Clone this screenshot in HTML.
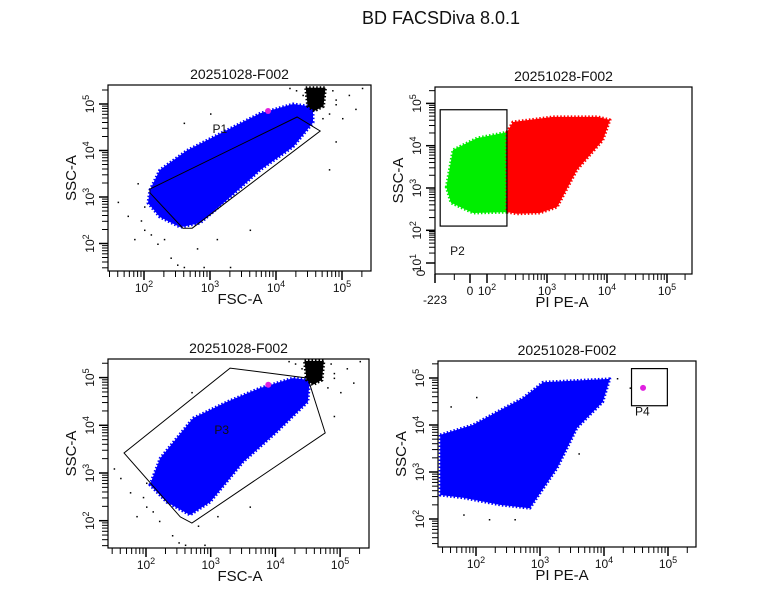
<!DOCTYPE html>
<html><head><meta charset="utf-8">
<style>
html,body{margin:0;padding:0;background:#fff;}
svg{display:block;font-family:"Liberation Sans",Arial,sans-serif;}
</style></head>
<body>
<svg id="fig" width="771" height="606" viewBox="0 0 771 606">
<text x="441" y="24" font-size="18" text-anchor="middle" fill="#111">BD FACSDiva 8.0.1</text>
</svg>
<script>
// ---------- data (log10 units unless noted) ----------
const tlBlue = [[2.09,3.15],[2.24,3.58],[2.65,4.0],[3.26,4.44],[3.76,4.8],[4.26,5.0],[4.56,4.94],[4.56,4.6],[4.26,4.08],[3.76,3.58],[3.26,2.94],[2.85,2.44],[2.55,2.35],[2.24,2.57],[2.06,2.87]];
const tlBlack = [[4.45,5.35],[4.75,5.35],[4.72,4.95],[4.58,4.85],[4.48,4.95]];
const tlGate = [[2.09,3.17],[4.32,4.72],[4.67,4.42],[2.73,2.33],[2.59,2.33],[2.09,3.09]];
const tlDots = [[1.6,2.9],[1.75,2.6],[1.9,3.3],[2.0,2.3],[2.2,2.0],[2.4,1.7],[2.6,1.5],[2.8,1.9],[3.1,2.1],[3.6,2.3],[4.9,5.1],[5.0,4.7],[5.1,5.2],[4.9,4.2],[4.8,3.6],[5.2,4.9],[2.6,4.6],[3.0,4.8],[1.85,2.1],[4.3,5.3],[4.4,5.2],[4.85,5.3],[4.9,5.0],[4.8,4.8],[4.7,4.7],[5.3,5.35],[4.2,5.35],[2.0,2.8],[1.95,2.5],[2.1,2.2],[2.3,2.1],[2.5,1.55],[2.9,1.5],[3.3,1.5]];
const tlMagenta = [3.88,4.85];
const tlLabel = [3.15,4.38];
const blBlue = [[2.06,2.75],[2.22,3.31],[2.73,4.15],[3.25,4.49],[3.76,4.78],[4.27,4.99],[4.53,4.95],[4.5,4.49],[4.02,3.86],[3.5,3.23],[2.99,2.39],[2.68,2.12],[2.32,2.39]];
const blBlack = [[4.45,5.35],[4.75,5.35],[4.72,4.95],[4.58,4.85],[4.48,4.95]];
const blGate = [[1.66,3.42],[3.3,5.2],[4.5,4.99],[4.77,3.84],[2.71,1.95],[2.53,2.08]];
const blDots = [[1.6,2.9],[1.75,2.6],[1.5,3.1],[2.0,2.3],[2.2,2.0],[2.4,1.7],[2.6,1.5],[2.8,1.9],[3.1,2.1],[3.6,2.3],[4.9,5.1],[5.0,4.7],[5.1,5.2],[4.9,4.2],[5.2,4.9],[2.7,4.7],[1.85,2.1],[4.3,5.3],[4.4,5.2],[4.85,5.3],[4.9,5.0],[4.8,4.8],[5.3,5.35],[4.2,5.35],[2.0,2.8],[1.95,2.5],[2.1,2.2],[2.5,1.55],[2.9,1.5]];
const blMagenta = [3.89,4.85];
const blLabel = [3.17,3.82];
// Top-right: PI PE-A (raw values) vs SSC-A (log10)
const trGreen = [[-151,3.02],[-108,3.9],[41,4.18],[215,4.32],[215,2.43],[18,2.41],[-121,2.65]];
const trRed = [[215,4.32],[270,4.56],[1260,4.68],[7080,4.68],[11200,4.61],[8500,4.13],[3160,3.43],[1480,2.55],[760,2.41],[316,2.39],[215,2.43]];
const trGate = [[-190,4.85],[215,2.1]];
const trLabel = [-80,1.25];
const trXTicks = [-223,0,100,1000,10000,100000];
const trXTickLabels = ['-223','0','10|2','10|3','10|4','10|5'];
const brBlue = [[1.44,3.79],[1.95,4.0],[2.73,4.57],[3.05,4.91],[4.09,4.98],[3.98,4.49],[3.58,3.94],[3.27,3.09],[2.84,2.23],[2.38,2.3],[1.8,2.45],[1.44,2.51]];
const brGate = [[4.43,5.2],[4.99,4.41]];
const brMagenta = [4.61,4.79];
const brLabel = [4.6,4.2];
const brDots = [[1.8,2.1],[2.2,2.0],[2.6,2.0],[3.6,3.4],[4.2,5.0],[4.4,4.8],[2.0,4.6],[1.6,4.4]];

const logTicks = [2,3,4,5];
const logTickLabels = ['10|2','10|3','10|4','10|5'];

const NS='http://www.w3.org/2000/svg';
const svg=document.getElementById('fig');
function mk(tag,attrs,parent){const e=document.createElementNS(NS,tag);for(const k in attrs)e.setAttribute(k,attrs[k]);(parent||svg).appendChild(e);return e;}
function powLabel(parent,txt,x,y,rot){
  const g=mk('g',{transform:'translate('+x+','+y+')'+(rot?' rotate(-90)':'')},parent);
  const parts=txt.split('|');
  const t=mk('text',{x:0,y:0,'font-size':12,'text-anchor':'middle',fill:'#111'},g);
  t.textContent=parts[0];
  if(parts[1]){const s=mk('tspan',{dy:-5,'font-size':9},t);s.textContent=parts[1];}
  return g;
}
function makePlot(cfg){
  const g=mk('g',{});
  
  
  const X=cfg.X, Y=cfg.Y, f=cfg.f;
  const clipId='c'+cfg.name;
  const cp=mk('clipPath',{id:clipId},g);
  mk('rect',{x:f.l,y:f.t,width:f.r-f.l,height:f.b-f.t},cp);
  const pg=mk('g',{'clip-path':'url(#'+clipId+')'},g);
  const pts=a=>a.map(p=>X(p[0]).toFixed(1)+','+Y(p[1]).toFixed(1)).join(' ');
  (cfg.dots||[]).forEach(d=>{const r=mk('rect',{x:X(d[0]),y:Y(d[1]),width:1.5,height:1.5,fill:'#000'},pg);
    
    });
  (cfg.blobs||[]).forEach(b=>{const p=mk('polygon',{points:pts(b.d),fill:b.c,stroke:b.c,'stroke-width':3,'stroke-linejoin':'round','stroke-dasharray':'1.5 2'},pg);
    
    });
  if(cfg.mag){const m=mk('circle',{cx:X(cfg.mag[0]),cy:Y(cfg.mag[1]),r:3,fill:'#e020e0'},pg);
    
    }
  if(cfg.gatePoly){const p=mk('polygon',{points:pts(cfg.gatePoly),fill:'none',stroke:'#000','stroke-width':1},pg);
    
    }
  if(cfg.gateRect){const a=cfg.gateRect;const x1=X(a[0][0]),y1=Y(a[0][1]),x2=X(a[1][0]),y2=Y(a[1][1]);
    const r=mk('rect',{x:x1,y:y1,width:x2-x1,height:y2-y1,fill:'none',stroke:'#000','stroke-width':1.2},pg);
    
    }
  const lab=mk('text',{x:X(cfg.label[0]),y:Y(cfg.label[1]),'font-size':12,'text-anchor':'middle',fill:'#111'},g);
  lab.textContent=cfg.labelText;
  
  
  const fr=mk('rect',{x:f.l,y:f.t,width:f.r-f.l,height:f.b-f.t,fill:'none',stroke:'#000','stroke-width':1.2},g);
  
  
  const t=mk('text',{x:(f.l+f.r)/2,y:f.t-6,'font-size':14,'text-anchor':'middle',fill:'#111'},g);
  t.textContent='20251028-F002';
  
  
  const ya=mk('g',{},g);
  
  
  for(let e=cfg.yMinDec;e<=5;e++)for(let m=1;m<10;m++){const v=e+Math.log10(m);const yy=Y(v);if(yy<f.t+2||yy>f.b)continue;
    mk('line',{x1:f.l-(m==1?9:6),x2:f.l,y1:yy,y2:yy,stroke:'#000','stroke-width':m==1?1.5:1},ya);}
  const ylabs=cfg.yLabels||logTickLabels, yt=cfg.yTicks||logTicks;
  yt.forEach((v,i)=>{powLabel(ya,ylabs[i],f.l-14,Y(v),true);});
  const yt2=mk('text',{transform:'translate('+(f.l-32)+','+((f.t+f.b)/2)+') rotate(-90)','font-size':15,'text-anchor':'middle',fill:'#111'},ya);
  yt2.textContent='SSC-A';
  const xa=mk('g',{},g);
  
  
  cfg.xTickVals.forEach(v=>{const xx=X(v.v);if(xx<f.l||xx>f.r)return;
    mk('line',{x1:xx,x2:xx,y1:f.b,y2:f.b+(v.maj?9:6),stroke:'#000','stroke-width':v.maj?1.5:1},xa);});
  cfg.xLab.forEach(l=>{powLabel(xa,l.t,X(l.v),f.b+(l.low?30:21),false);});
  const xt=mk('text',{x:cfg.xTitleX,y:f.b+33,'font-size':15,'text-anchor':'middle',fill:'#111'},xa);
  xt.textContent=cfg.xTitle;
}
function logTickVals(minDec){const a=[];for(let e=minDec;e<=5;e++)for(let m=1;m<10;m++)a.push({v:e+Math.log10(m),maj:m==1});return a;}
function logXLabs(){return logTicks.map((v,i)=>({v:v,t:logTickLabels[i]}));}

(function(){const f={l:108,t:85,r:371,b:271};
 makePlot({name:'plot-fsc-ssc-p1',f:f,X:v=>144+(v-2)*66,Y:v=>197-(v-3)*46.5,blobs:[{d:tlBlue,c:'#0000ff',n:'blue-population'},{d:tlBlack,c:'#000',n:'black-population'}],
  dots:tlDots,mag:tlMagenta,gatePoly:tlGate,gateName:'gate-p1',label:tlLabel,labelText:'P1',yMinDec:1,
  xTickVals:logTickVals(1),xLab:logXLabs(),xTitle:'FSC-A',xTitleX:240});})();
(function(){const f={l:108,t:359,r:369,b:548};
 makePlot({name:'plot-fsc-ssc-p3',f:f,X:v=>146+(v-2)*64.7,Y:v=>473-(v-3)*47.7,blobs:[{d:blBlue,c:'#0000ff',n:'blue-population'},{d:blBlack,c:'#000',n:'black-population'}],
  dots:blDots,mag:blMagenta,gatePoly:blGate,gateName:'gate-p3',label:blLabel,labelText:'P3',yMinDec:1,
  xTickVals:logTickVals(1),xLab:logXLabs(),xTitle:'FSC-A',xTitleX:240});})();
(function(){const f={l:435,t:87,r:692,b:274};
 const X=v=>v>=100?487+(Math.log10(v)-2)*60:(v>=0?470+v/100*17:470+v/223*35);
 const Y=v=>v>=2?188-(v-3)*42.3:230+(2-v)*33;
 const ticks=[{v:-223,maj:true},{v:-100,maj:false},{v:0,maj:true}];
 for(let e=2;e<=5;e++)for(let m=1;m<10;m++)ticks.push({v:m*Math.pow(10,e),maj:m==1});
 makePlot({name:'plot-pi-ssc-p2',f:f,X:X,Y:Y,blobs:[{d:trGreen,c:'#00ee00',n:'green-population'},{d:trRed,c:'#ff0000',n:'red-population'}],
  gateRect:trGate,gateName:'gate-p2',label:trLabel,labelText:'P2',yMinDec:1,
  yTicks:[1,2,3,4,5],yLabels:['10|1','10|2','10|3','10|4','10|5'],
  xTickVals:ticks,xLab:trXTicks.map((v,i)=>({v:v,t:trXTickLabels[i],low:v<0})),xTitle:'PI PE-A',xTitleX:562});
 const z=mk('text',{transform:'translate('+(f.l-10)+','+(f.b-1)+') rotate(-90)','font-size':12,'text-anchor':'middle',fill:'#111'});z.textContent='0';
 
 
})();
(function(){const f={l:438,t:361,r:696,b:547};
 makePlot({name:'plot-pi-ssc-p4',f:f,X:v=>476+(v-2)*64,Y:v=>472-(v-3)*47,blobs:[{d:brBlue,c:'#0000ff',n:'blue-population'}],
  dots:brDots,mag:brMagenta,gateRect:brGate,gateName:'gate-p4',label:brLabel,labelText:'P4',yMinDec:1,
  xTickVals:logTickVals(1),xLab:logXLabs(),xTitle:'PI PE-A',xTitleX:562});})();
</script>
</body></html>
